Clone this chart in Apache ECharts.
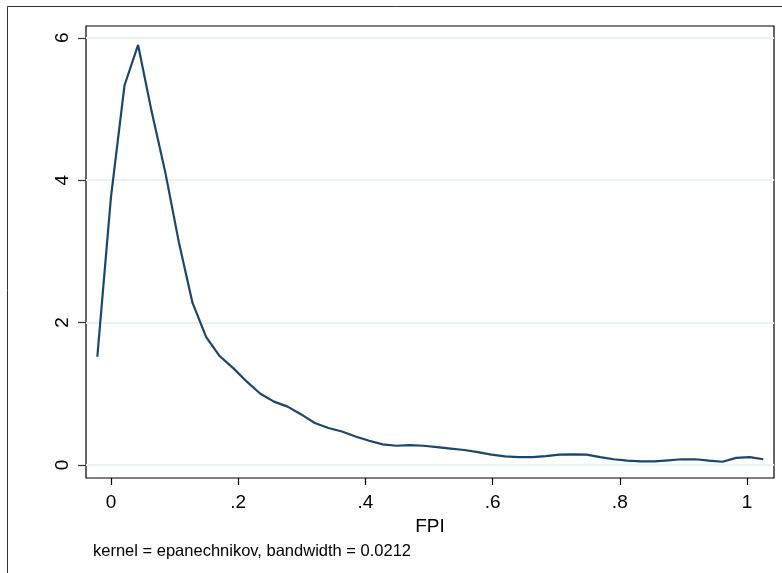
<!DOCTYPE html>
<html>
<head>
<meta charset="utf-8">
<script src="https://cdn.jsdelivr.net/npm/echarts@6/dist/echarts.min.js"></script>
<style>
html,body{margin:0;padding:0;background:#fff;}
#chart{width:782px;height:573px;}
</style>
</head>
<body>
<div id="chart"></div>
<script>
// Kernel density of FPI (Stata kdensity, 50 evaluation points)
var fpiX = [-0.0215,-0.0001,0.0212,0.0426,0.0640,0.0854,0.1067,0.1281,0.1495,0.1708,
  0.1922,0.2136,0.2349,0.2563,0.2777,0.2991,0.3204,0.3418,0.3632,0.3845,
  0.4059,0.4273,0.4486,0.4700,0.4914,0.5128,0.5341,0.5555,0.5769,0.5982,
  0.6196,0.6410,0.6623,0.6837,0.7051,0.7265,0.7478,0.7692,0.7906,0.8119,
  0.8333,0.8547,0.8760,0.8974,0.9188,0.9402,0.9615,0.9829,1.0043,1.0256];
var density = [1.52,3.76,5.33,5.90,4.96,4.11,3.13,2.28,1.80,1.53,
  1.36,1.17,1.00,0.89,0.82,0.71,0.59,0.52,0.47,0.40,
  0.34,0.29,0.27,0.28,0.27,0.25,0.23,0.21,0.18,0.145,
  0.12,0.11,0.11,0.125,0.145,0.15,0.145,0.11,0.08,0.06,
  0.05,0.05,0.065,0.08,0.08,0.06,0.045,0.10,0.11,0.08];
var xTicks = [0, 0.2, 0.4, 0.6, 0.8, 1];
var yTicks = [0, 2, 4, 6];
var xTitle = 'FPI';
var noteText = 'kernel = epanechnikov, bandwidth = 0.0212';

function fmtX(v){
  if (Math.abs(v) < 1e-9) return '0';
  if (Math.abs(v - 1) < 1e-9) return '1';
  return String(Math.round(v*10)/10).replace(/^0\./, '.');
}

var data = fpiX.map(function(x, i){ return [x, density[i]]; });
var FONT = 'Liberation Sans, Arial, sans-serif';

var chart = echarts.init(document.getElementById('chart'), null, {renderer:'canvas'});
chart.setOption({
  animation: false,
  backgroundColor: '#fff',
  textStyle: {fontFamily: FONT},
  title: {
    text: noteText,
    left: 88, top: 538,
    textStyle: {fontSize: 16.5, fontWeight: 'normal', color: '#000', fontFamily: FONT}
  },
  graphic: [{
    type: 'rect', silent: true, z: -1,
    shape: {x: 7.5, y: 6.5, width: 900, height: 700},
    style: {fill: 'none', stroke: '#333', lineWidth: 1}
  }],
  grid: {
    left: 86, top: 26, right: 8, bottom: 95,
    show: true, borderColor: '#000', borderWidth: 1.2, backgroundColor: '#fff'
  },
  xAxis: {
    type: 'value',
    min: -0.0393, max: 1.0425,
    name: xTitle, nameLocation: 'middle', nameGap: 33,
    nameTextStyle: {fontSize: 19, color: '#000', fontFamily: FONT},
    axisLine: {show: false, onZero: false},
    axisTick: {show: true, inside: false, length: 7, customValues: xTicks, lineStyle: {color: '#000', width: 1.2}},
    axisLabel: {customValues: xTicks, formatter: fmtX, fontSize: 19, color: '#000', margin: 15, fontFamily: FONT},
    splitLine: {show: false}
  },
  yAxis: {
    type: 'value',
    min: -0.183, max: 6.166,
    axisLine: {show: false, onZero: false},
    axisTick: {show: true, inside: false, length: 8, customValues: yTicks, lineStyle: {color: '#333', width: 1.2}},
    axisLabel: {customValues: yTicks, rotate: 90, fontSize: 19, color: '#000', margin: 14, fontFamily: FONT},
    splitLine: {show: true, lineStyle: {color: '#eaf2f3', width: 2}}
  },
  series: [{
    type: 'line',
    data: data,
    showSymbol: false,
    smooth: false,
    lineStyle: {color: '#1a476f', width: 2.2},
    itemStyle: {color: '#1a476f'}
  }]
});
</script>
</body>
</html>
